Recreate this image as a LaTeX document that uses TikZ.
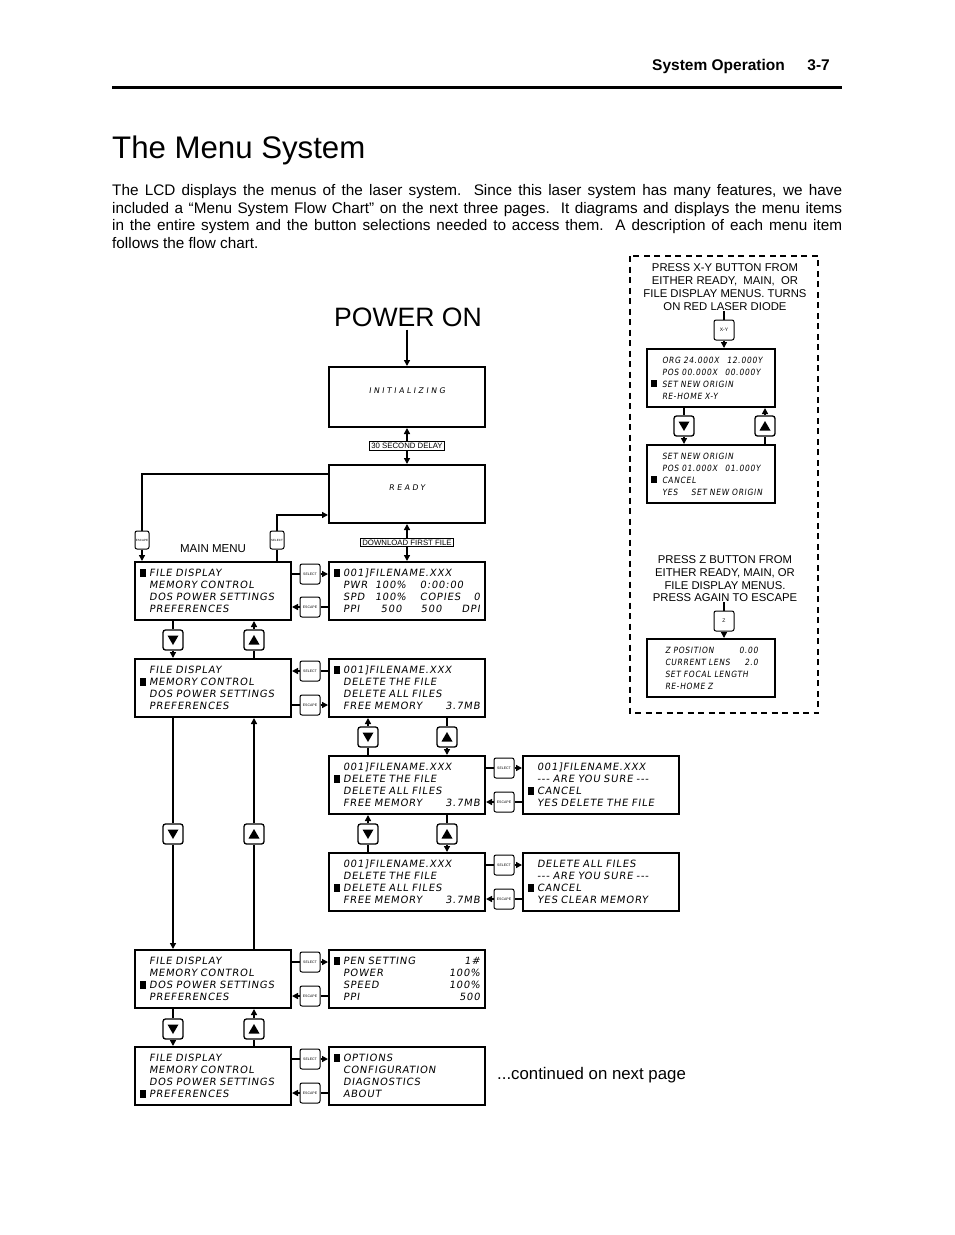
\documentclass[tikz,border=0pt]{standalone}
\usepackage{fontspec}
\setmainfont{Liberation Sans}
\newfontfamily\lcdfont[LetterSpace=8,WordSpace=2,FakeSlant=0.15]{DejaVu Sans}
\newfontfamily\lcdnarrow[LetterSpace=8,WordSpace=2,FakeSlant=0.15,FakeStretch=0.88]{DejaVu Sans}
\usetikzlibrary{arrows.meta,calc}
\newcommand{\lcdmain}{\lcdfont\fontsize{10}{12}\selectfont}
\newcommand{\lcdsmall}{\lcdnarrow\fontsize{8.6}{12}\selectfont}
\newcommand{\lcdtiny}{\lcdfont\fontsize{7.8}{9}\selectfont\addfontfeature{LetterSpace=32}}
\newcommand{\mk}{\makebox[9pt][l]{\rule[-0.2pt]{6pt}{7.5pt}}}
\newcommand{\nm}{\hspace*{9pt}}
\newcommand{\mks}{\makebox[11pt][l]{\rule[-0.2pt]{5.5pt}{7pt}}}
\newcommand{\nms}{\hspace*{11pt}}
\newcommand{\col}[2]{\makebox[#1pt][l]{#2}}
\begin{document}
\begin{tikzpicture}[x=1pt,y=-1pt,
  >={Triangle[length=6pt,width=6pt]},
  conn/.style={line width=1.4pt},
  lcdbox/.style={draw, line width=2pt, fill=white, text width=146pt, inner xsep=5pt, inner ysep=0pt, minimum height=58pt, align=left, font=\lcdmain},
  xybox/.style={lcdbox, text width=120pt, inner xsep=4pt, font=\lcdsmall},
  navbtn/.style={draw, line width=1.3pt, rounded corners=2.5pt, minimum width=20pt, minimum height=20pt, inner sep=0pt, fill=white},
  dnbtn/.style={navbtn, path picture={\fill[black, sharp corners] ($(path picture bounding box.center)+(-5.5,-4.5)$) -- ++(11,0) -- ++(-5.5,9.5) -- cycle;}},
  upbtn/.style={navbtn, path picture={\fill[black, sharp corners] ($(path picture bounding box.center)+(-5.5,4.5)$) -- ++(11,0) -- ++(-5.5,-9.5) -- cycle;}},
  sbtn/.style={draw, line width=1pt, rounded corners=2pt, minimum width=20pt, minimum height=20pt, inner sep=0pt, fill=white, font=\fontsize{3.5}{4}\selectfont},
  sbtnT/.style={sbtn, minimum width=14pt, minimum height=18pt, font=\fontsize{3}{4}\selectfont},
  lbl/.style={draw, line width=0.8pt, fill=white, inner xsep=2pt, inner ysep=1.5pt, font=\fontsize{7.8}{8}\selectfont},
  note/.style={align=center, inner sep=0pt, font=\fontsize{11.3}{13}\selectfont}
]
\fill[white] (0,0) rectangle (954,1235);
\useasboundingbox (0,0) rectangle (954,1235);

% header
\node[anchor=base west, inner sep=0pt, font=\bfseries\fontsize{15.5}{18}\selectfont] (hdr) at (652,70) {System Operation};
\node[anchor=base east, inner sep=0pt, font=\bfseries\fontsize{15.5}{18}\selectfont] (pg) at (830,70) {3-7};
\draw[line width=3pt] (112,87) -- (842,87);
\node[anchor=base west, inner sep=0pt, font=\fontsize{31.2}{36}\selectfont] (title) at (112,158) {The Menu System};
\node[anchor=north west, inner sep=0pt, text width=730pt, align=justify, font=\fontsize{15.3}{17.5}\selectfont] (para) at (112,184.5) {The LCD displays the menus of the laser system.\ \ Since this laser system has many features, we have\linebreak included a “Menu System Flow Chart” on the next three pages.\ \ It diagrams and displays the menu items\linebreak in the entire system and the button selections needed to access them.\ \ A description of each menu item\linebreak follows the flow chart.};

% power on / init / ready
\node[inner sep=0pt, font=\fontsize{26.6}{30}\selectfont] (pwr) at (408,317) {POWER ON};
\node[lcdbox, minimum height=60pt] (init) at (407,397) {};
\node[inner sep=0pt, font=\lcdtiny] (initT) at (407,391) {INITIALIZING};
\node[lcdbox] (ready) at (407,494) {};
\node[inner sep=0pt, font=\lcdtiny] (readyT) at (407,488) {READY};
\draw[conn,->,shorten <=3pt] (init.north |- pwr.south) -- (init.north);
\draw[conn,<->] (init.south) -- (ready.north) node[midway, lbl] (dl) {30 SECOND DELAY};

% main menu column
\node[lcdbox] (m1) at (213,591) {\mk FILE DISPLAY\\\nm MEMORY CONTROL\\\nm DOS POWER SETTINGS\\\nm PREFERENCES};
\node[lcdbox] (m2) at (213,688) {\nm FILE DISPLAY\\\mk MEMORY CONTROL\\\nm DOS POWER SETTINGS\\\nm PREFERENCES};
\node[lcdbox] (m5) at (213,979) {\nm FILE DISPLAY\\\nm MEMORY CONTROL\\\mk DOS POWER SETTINGS\\\nm PREFERENCES};
\node[lcdbox] (m6) at (213,1076) {\nm FILE DISPLAY\\\nm MEMORY CONTROL\\\nm DOS POWER SETTINGS\\\mk PREFERENCES};
\node[inner sep=0pt, font=\fontsize{11.5}{13}\selectfont] (mm) at (213,549) {MAIN MENU};

% file column
\node[lcdbox] (f1) at (407,591) {\mk 001]FILENAME.XXX\\\nm\col{32}{PWR}\col{45}{100\%}0:00:00\\\nm\col{32}{SPD}\col{45}{100\%}COPIES\hfill 0\\\nm\col{38}{PPI}\col{40}{500}500\hfill DPI};
\node[lcdbox] (f2) at (407,688) {\mk 001]FILENAME.XXX\\\nm DELETE THE FILE\\\nm DELETE ALL FILES\\\nm FREE MEMORY\hfill 3.7MB};
\node[lcdbox] (f3) at (407,785) {\nm 001]FILENAME.XXX\\\mk DELETE THE FILE\\\nm DELETE ALL FILES\\\nm FREE MEMORY\hfill 3.7MB};
\node[lcdbox] (f4) at (407,882) {\nm 001]FILENAME.XXX\\\nm DELETE THE FILE\\\mk DELETE ALL FILES\\\nm FREE MEMORY\hfill 3.7MB};
\node[lcdbox] (c3) at (601,785) {\nm 001]FILENAME.XXX\\\nm -{}-{}- ARE YOU SURE -{}-{}-\\\mk CANCEL\\\nm YES DELETE THE FILE};
\node[lcdbox] (c4) at (601,882) {\nm DELETE ALL FILES\\\nm -{}-{}- ARE YOU SURE -{}-{}-\\\mk CANCEL\\\nm YES CLEAR MEMORY};
\node[lcdbox] (p5) at (407,979) {\mk PEN SETTING\hfill 1\#\\\nm POWER\hfill 100\%\\\nm SPEED\hfill 100\%\\\nm PPI\hfill 500};
\node[lcdbox] (p6) at (407,1076) {\mk OPTIONS\\\nm CONFIGURATION\\\nm DIAGNOSTICS\\\nm ABOUT};
\node[anchor=west, inner sep=0pt, font=\fontsize{16.8}{19}\selectfont] (cont) at (497,1075) {...continued on next page};

\draw[conn,<->] (ready.south) -- (f1.north) node[midway, lbl] (dff) {DOWNLOAD FIRST FILE};

% top escape / select
\node[sbtnT] (et) at (142,540) {ESCAPE};
\node[sbtnT] (st) at (277,540) {SELECT};
\draw[conn] ($(ready.north west)+(0,10)$) -| (et.north);
\draw[conn,->] (et.south) -- (m1.north -| et);
\draw[conn] (m1.north -| st) -- (st.south);
\draw[conn,->] (st.north) |- ($(ready.south west)+(0,-9)$);

% side buttons
\node[sbtn] (s1) at (310,574) {SELECT};
\node[sbtn] (e1) at (310,607) {ESCAPE};
\node[sbtn] (s2) at (310,671) {SELECT};
\node[sbtn] (e2) at (310,705) {ESCAPE};
\node[sbtn] (s5) at (310,962) {SELECT};
\node[sbtn] (e5) at (310,996) {ESCAPE};
\node[sbtn] (s6) at (310,1059) {SELECT};
\node[sbtn] (e6) at (310,1093) {ESCAPE};
\node[sbtn] (s3) at (504,768) {SELECT};
\node[sbtn] (e3) at (504,802) {ESCAPE};
\node[sbtn] (s4) at (504,865) {SELECT};
\node[sbtn] (e4) at (504,899) {ESCAPE};

\draw[conn] (m1.east |- s1) -- (s1.west); \draw[conn,->] (s1.east) -- (f1.west |- s1);
\draw[conn] (f1.west |- e1) -- (e1.east); \draw[conn,->] (e1.west) -- (m1.east |- e1);
\draw[conn] (f2.west |- s2) -- (s2.east); \draw[conn,->] (s2.west) -- (m2.east |- s2);
\draw[conn] (m2.east |- e2) -- (e2.west); \draw[conn,->] (e2.east) -- (f2.west |- e2);
\draw[conn] (m5.east |- s5) -- (s5.west); \draw[conn,->] (s5.east) -- (p5.west |- s5);
\draw[conn] (p5.west |- e5) -- (e5.east); \draw[conn,->] (e5.west) -- (m5.east |- e5);
\draw[conn] (m6.east |- s6) -- (s6.west); \draw[conn,->] (s6.east) -- (p6.west |- s6);
\draw[conn] (p6.west |- e6) -- (e6.east); \draw[conn,->] (e6.west) -- (m6.east |- e6);
\draw[conn] (f3.east |- s3) -- (s3.west); \draw[conn,->] (s3.east) -- (c3.west |- s3);
\draw[conn] (c3.west |- e3) -- (e3.east); \draw[conn,->] (e3.west) -- (f3.east |- e3);
\draw[conn] (f4.east |- s4) -- (s4.west); \draw[conn,->] (s4.east) -- (c4.west |- s4);
\draw[conn] (c4.west |- e4) -- (e4.east); \draw[conn,->] (e4.west) -- (f4.east |- e4);

% main nav buttons
\node[dnbtn] (d1) at (173,640) {};
\node[upbtn] (u1) at (254,640) {};
\node[dnbtn] (d2) at (173,834) {};
\node[upbtn] (u2) at (254,834) {};
\node[dnbtn] (d3) at (173,1029) {};
\node[upbtn] (u3) at (254,1029) {};
\draw[conn] (m1.south -| d1) -- (d1.north); \draw[conn,->] (d1.south) -- (m2.north -| d1);
\draw[conn] (m2.north -| u1) -- (u1.south); \draw[conn,->] (u1.north) -- (m1.south -| u1);
\draw[conn] (m2.south -| d2) -- (d2.north); \draw[conn,->] (d2.south) -- (m5.north -| d2);
\draw[conn] (m5.north -| u2) -- (u2.south); \draw[conn,->] (u2.north) -- (m2.south -| u2);
\draw[conn] (m5.south -| d3) -- (d3.north); \draw[conn,->] (d3.south) -- (m6.north -| d3);
\draw[conn] (m6.north -| u3) -- (u3.south); \draw[conn,->] (u3.north) -- (m5.south -| u3);

% file nav buttons
\node[dnbtn] (fd1) at (368,737) {};
\node[upbtn] (fu1) at (447,737) {};
\node[dnbtn] (fd2) at (368,834) {};
\node[upbtn] (fu2) at (447,834) {};
\draw[conn,->] (fd1.north) -- (f2.south -| fd1); \draw[conn] (fd1.south) -- (f3.north -| fd1);
\draw[conn] (f2.south -| fu1) -- (fu1.north); \draw[conn,->] (fu1.south) -- (f3.north -| fu1);
\draw[conn,->] (fd2.north) -- (f3.south -| fd2); \draw[conn] (fd2.south) -- (f4.north -| fd2);
\draw[conn] (f3.south -| fu2) -- (fu2.north); \draw[conn,->] (fu2.south) -- (f4.north -| fu2);

% dashed panel
\draw[line width=1.8pt, dash pattern=on 6pt off 4.5pt] (630,256) rectangle (818,713);
\node[note] (xyt) at (725,287.5) {PRESS X-Y BUTTON FROM\\EITHER READY,\ \ MAIN,\ \ OR\\FILE DISPLAY MENUS. TURNS\\ON RED LASER DIODE};
\node[sbtn, font=\fontsize{5}{6}\selectfont] (xyb) at (724,330) {X-Y};
\node[xybox] (xy1) at (711,378) {\nms\col{65}{ORG 24.000X}12.000Y\\\nms\col{63}{POS 00.000X}00.000Y\\\mks SET NEW ORIGIN\\\nms RE-HOME X-Y};
\node[xybox] (xy2) at (711,474) {\nms SET NEW ORIGIN\\\nms\col{63}{POS 01.000X}01.000Y\\\mks CANCEL\\\nms\col{29}{YES}SET NEW ORIGIN};
\node[dnbtn] (xd) at (684,426) {};
\node[upbtn] (xu) at (765,426) {};
\draw[conn] (xyt.south -| xyb) -- (xyb.north);
\draw[conn,->] (xyb.south) -- (xy1.north -| xyb);
\draw[conn] (xy1.south -| xd) -- (xd.north); \draw[conn,->] (xd.south) -- (xy2.north -| xd);
\draw[conn] (xy2.north -| xu) -- (xu.south); \draw[conn,->] (xu.north) -- (xy1.south -| xu);

\node[note, font=\fontsize{11.3}{12.7}\selectfont] (zt) at (725,579) {PRESS Z BUTTON FROM\\EITHER READY, MAIN, OR\\FILE DISPLAY MENUS.\\PRESS AGAIN TO ESCAPE};
\node[sbtn, font=\fontsize{5}{6}\selectfont] (zbtn) at (724,621) {Z};
\node[xybox] (zb) at (711,668) {\hspace*{14pt}\makebox[93pt]{Z POSITION\hfill 0.00}\\\hspace*{14pt}\makebox[93pt]{CURRENT LENS\hfill 2.0}\\\hspace*{14pt}SET FOCAL LENGTH\\\hspace*{14pt}RE-HOME Z};
\draw[conn] (zt.south -| zbtn) -- (zbtn.north);
\draw[conn,->] (zbtn.south) -- (zb.north -| zbtn);
\end{tikzpicture}
\end{document}
